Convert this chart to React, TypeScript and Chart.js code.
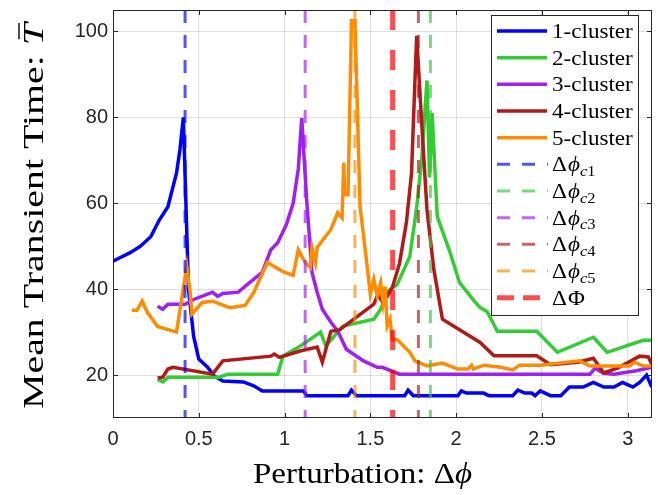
import { useEffect, useRef } from 'react';
import { Chart, registerables } from 'chart.js';

Chart.register(...registerables);

// ---------- axes ----------
const xTickValues = [0, 0.5, 1, 1.5, 2, 2.5, 3];
const yTickValues = [20, 40, 60, 80, 100];
const xMin = 0;
const xMax = Math.PI;
const yMin = 10;
const yMax = 105;
const xTitle = ['Perturbation: Δ', 'ϕ'];
const yTitle = ['Mean Transient Time: ', 'T'];

// ---------- series ----------
const seriesLabels = ['1-cluster', '2-cluster', '3-cluster', '4-cluster', '5-cluster'];
const seriesColors = ['#0000ff', '#33cc33', '#a020f0', '#b01a1a', '#ff8c00'];

const c1X = [0, 0.04, 0.10, 0.16, 0.22, 0.27, 0.32, 0.37, 0.39, 0.41, 0.44, 0.47, 0.50, 0.55, 0.59, 0.64, 0.76, 0.82, 0.87, 1.11, 1.13, 1.37, 1.39, 1.42, 1.70, 1.72, 1.75, 2.01, 2.03, 2.06, 2.12, 2.16, 2.19, 2.33, 2.36, 2.40, 2.44, 2.46, 2.49, 2.55, 2.61, 2.66, 2.74, 2.80, 2.86, 2.92, 2.97, 3.03, 3.07, 3.11, 3.14];
const c1Y = [46.5, 47.3, 48.5, 50, 52.2, 56.1, 59.2, 67, 72.4, 80, 40, 29, 23.7, 21.9, 19.8, 18.6, 18.4, 17.5, 16.3, 16.3, 15.2, 15.2, 16.5, 15.2, 15.2, 16.5, 15.2, 15.2, 16.3, 15.8, 15.8, 15.8, 15.2, 15.2, 16.5, 15.8, 15.8, 15.2, 16.3, 15.2, 15.2, 17.2, 17.2, 18.3, 17.2, 17.2, 18.3, 17.2, 18.3, 20, 17.2];

const c2X = [0.26, 0.29, 0.32, 0.62, 0.67, 0.96, 0.99, 1.09, 1.21, 1.24, 1.34, 1.52, 1.56, 1.60, 1.655, 1.73, 1.77, 1.80, 1.83, 1.845, 1.86, 1.89, 1.965, 2.02, 2.10, 2.14, 2.18, 2.24, 2.47, 2.59, 2.80, 2.88, 3.09, 3.14];
const c2Y = [19, 18.4, 19.5, 19.5, 20.2, 20.2, 24.4, 26.7, 30, 26.8, 31.4, 33, 35.3, 39.5, 41, 47.6, 59, 70.5, 88.6, 66, 81, 56.9, 48.5, 41.5, 37.5, 35.7, 34.8, 30.2, 30.2, 25.3, 28.8, 25.3, 28.1, 28.1];

const c3X = [0.26, 0.29, 0.32, 0.42, 0.47, 0.58, 0.61, 0.64, 0.73, 0.78, 0.87, 0.92, 0.96, 1.01, 1.05, 1.08, 1.10, 1.13, 1.16, 1.19, 1.22, 1.27, 1.31, 1.36, 1.46, 1.54, 1.57, 1.67, 2.78, 2.81, 2.86, 2.92, 3.05, 3.14];
const c3Y = [36, 35.3, 36.5, 36.5, 37.6, 39.3, 38.3, 39, 39.3, 41, 43.9, 49.2, 50.8, 55, 60, 68, 79.8, 60.1, 43.9, 39.3, 35.3, 32.3, 30.2, 26, 23.3, 21.8, 21.8, 20.2, 20.2, 21.6, 20.4, 20.2, 21, 21.8];

const c4X = [0.26, 0.29, 0.32, 0.35, 0.58, 0.64, 0.92, 0.94, 0.97, 1.09, 1.19, 1.22, 1.27, 1.32, 1.52, 1.545, 1.57, 1.60, 1.63, 1.67, 1.71, 1.74, 1.75, 1.77, 1.80, 1.83, 1.87, 1.92, 2.14, 2.22, 2.47, 2.55, 2.71, 2.80, 2.86, 2.94, 3.07, 3.12, 3.14];
const c4Y = [19.3, 19.5, 21.4, 21.8, 20.2, 23.3, 24.4, 24.9, 24.1, 25.6, 26.5, 23, 30.2, 30.5, 36.5, 38.8, 37, 38.4, 40.6, 46, 55.5, 67, 78, 99, 78.2, 58.5, 44.6, 33, 27.6, 24.5, 24.5, 22.4, 23, 23.9, 20.5, 21.6, 24.4, 24.2, 22.6];

const c5X = [0.11, 0.14, 0.17, 0.20, 0.26, 0.37, 0.43, 0.45, 0.46, 0.52, 0.58, 0.68, 0.77, 0.82, 0.90, 0.99, 1.05, 1.08, 1.12, 1.15, 1.16, 1.18, 1.19, 1.27, 1.31, 1.335, 1.345, 1.35, 1.37, 1.39, 1.41, 1.44, 1.47, 1.50, 1.52, 1.54, 1.56, 1.574, 1.586, 1.598, 1.615, 1.627, 1.656, 1.73, 1.76, 1.83, 1.92, 2.01, 2.07, 2.09, 2.10, 2.16, 2.26, 2.33, 2.37, 2.49, 2.72, 2.78, 3.01, 3.04, 3.09, 3.14];
const c5Y = [35.1, 35.1, 37.2, 34.6, 31.3, 30, 45.3, 39.2, 34.2, 36.9, 37.2, 35.7, 36.2, 39.2, 46.2, 44.1, 43.2, 49.2, 46.2, 45, 49.7, 46.2, 49.7, 53.9, 57.8, 56.6, 69.4, 62, 62, 102.5, 102.5, 59.2, 49.2, 38.8, 42.3, 38.4, 41.5, 36.9, 40.6, 31.4, 33, 28.3, 28.3, 25.3, 23.3, 22.1, 22.8, 21.4, 21.4, 22.3, 21.4, 22.3, 21.8, 21.2, 22.3, 22.3, 23.3, 22.1, 22.1, 23, 22.1, 22.1];

const seriesX = [c1X, c2X, c3X, c4X, c5X];
const seriesY = [c1Y, c2Y, c3Y, c4Y, c5Y];

// ---------- critical values (vertical dashed lines) ----------
const criticalLabels = ['Δϕ_c1', 'Δϕ_c2', 'Δϕ_c3', 'Δϕ_c4', 'Δϕ_c5', 'ΔΦ'];
const criticalValues = [0.42, 1.85, 1.12, 1.78, 1.41, 1.63];
const criticalColors = [
  'rgba(0,0,255,0.68)',
  'rgba(51,204,51,0.68)',
  'rgba(160,32,240,0.68)',
  'rgba(176,26,26,0.68)',
  'rgba(255,140,0,0.68)',
  'rgba(255,0,0,0.7)',
];

const SERIF = '"Liberation Serif", "DejaVu Serif", serif';
const SANS = '"Liberation Sans", Arial, sans-serif';

type Seg = { text: string; italic: boolean };

function segWidths(ctx: CanvasRenderingContext2D, segs: Seg[], size: number) {
  return segs.map((s) => {
    ctx.font = `${s.italic ? 'italic ' : ''}${size}px ${SERIF}`;
    return ctx.measureText(s.text).width;
  });
}

// draws segments starting at local x=0 baseline y=0, stretched horizontally by sx
function drawSegs(ctx: CanvasRenderingContext2D, segs: Seg[], size: number, sx: number) {
  const ws = segWidths(ctx, segs, size);
  ctx.save();
  ctx.scale(sx, 1);
  let x = 0;
  segs.forEach((s, i) => {
    ctx.font = `${s.italic ? 'italic ' : ''}${size}px ${SERIF}`;
    ctx.fillText(s.text, x, 0);
    x += ws[i];
  });
  ctx.restore();
  return ws;
}

function drawMathLabel(ctx: CanvasRenderingContext2D, label: string, x: number, y: number, size: number, sx: number) {
  ctx.save();
  ctx.translate(x, y);
  ctx.scale(sx, 1);
  ctx.textAlign = 'left';
  ctx.textBaseline = 'alphabetic';
  if (!label.startsWith('Δ')) {
    ctx.font = `${size}px ${SERIF}`;
    ctx.fillText(label, 0, 0);
    ctx.restore();
    return;
  }
  ctx.font = `${size}px ${SERIF}`;
  ctx.fillText('Δ', 0, 0);
  let cx = ctx.measureText('Δ').width + 1;
  const rest = label.slice(1);
  const [main, sub] = rest.split('_');
  if (main === 'Φ') {
    ctx.font = `${size}px ${SERIF}`;
    ctx.fillText(main, cx, 0);
    ctx.restore();
    return;
  }
  ctx.font = `italic ${size}px ${SERIF}`;
  ctx.fillText(main, cx, 0);
  cx += ctx.measureText(main).width;
  if (sub) {
    const ss = Math.round(size * 0.72);
    ctx.font = `italic ${ss}px ${SERIF}`;
    ctx.fillText(sub[0], cx, size * 0.22);
    cx += ctx.measureText(sub[0]).width;
    ctx.font = `${ss}px ${SERIF}`;
    ctx.fillText(sub.slice(1), cx, size * 0.22);
  }
  ctx.restore();
}

const overlayPlugin = {
  id: 'overlay',
  afterDraw(chart: any) {
    const ctx: CanvasRenderingContext2D = chart.ctx;
    const { left, right, top, bottom } = chart.chartArea;
    const xs = chart.scales.x;
    const ys = chart.scales.y;
    ctx.save();
    ctx.strokeStyle = '#262626';
    ctx.lineWidth = 1;
    ctx.setLineDash([]);
    // box
    ctx.strokeRect(Math.round(left) + 0.5, Math.round(top) + 0.5, Math.round(right - left) - 1, Math.round(bottom - top) - 1);
    // inward ticks
    ctx.beginPath();
    xTickValues.forEach((v) => {
      const px = Math.round(xs.getPixelForValue(v)) + 0.5;
      ctx.moveTo(px, bottom);
      ctx.lineTo(px, bottom - 5);
      ctx.moveTo(px, top);
      ctx.lineTo(px, top + 5);
    });
    yTickValues.forEach((v) => {
      const py = Math.round(ys.getPixelForValue(v)) + 0.5;
      ctx.moveTo(left, py);
      ctx.lineTo(left + 5, py);
      ctx.moveTo(right, py);
      ctx.lineTo(right - 5, py);
    });
    ctx.stroke();

    // legend
    const bw = 147;
    const bh = 300;
    const bx = Math.round(right) - 14 - bw;
    const by = Math.round(top) + 5;
    ctx.fillStyle = '#ffffff';
    ctx.fillRect(bx, by, bw, bh);
    ctx.strokeStyle = '#262626';
    ctx.strokeRect(bx + 0.5, by + 0.5, bw, bh);
    const rowH = 26.67;
    const items: { label: string; color: string; width: number; dash: number[]; len: number }[] = [];
    seriesLabels.forEach((l, i) => items.push({ label: l, color: seriesColors[i], width: 3.5, dash: [], len: 50 }));
    criticalLabels.forEach((l, i) => {
      const big = l === 'ΔΦ';
      items.push({ label: l, color: criticalColors[i], width: big ? 5 : 3, dash: big ? [17, 9] : [13, 12], len: big ? 43 : 51 });
    });
    items.forEach((it, i) => {
      const cy = by + 16 + i * rowH;
      ctx.beginPath();
      ctx.strokeStyle = it.color;
      ctx.lineWidth = it.width;
      ctx.setLineDash(it.dash);
      ctx.moveTo(bx + 6, cy);
      ctx.lineTo(bx + 6 + it.len, cy);
      ctx.stroke();
      ctx.setLineDash([]);
      ctx.fillStyle = '#000000';
      drawMathLabel(ctx, it.label, bx + 61, cy + 7, 21, 1.1);
    });

    // titles
    ctx.fillStyle = '#000000';
    ctx.textAlign = 'left';
    ctx.textBaseline = 'alphabetic';
    const tSize = 30;

    // x title
    const xSegs: Seg[] = [
      { text: xTitle[0], italic: false },
      { text: xTitle[1], italic: true },
    ];
    const xw = segWidths(ctx, xSegs, tSize).reduce((a, b) => a + b, 0);
    const xSpan = 219;
    const xsx = xSpan / xw;
    ctx.save();
    ctx.translate(362.5 - xSpan / 2, 483);
    drawSegs(ctx, xSegs, tSize, xsx);
    ctx.restore();

    // y title
    const ySegs: Seg[] = [
      { text: yTitle[0], italic: false },
      { text: yTitle[1], italic: true },
    ];
    const yws = segWidths(ctx, ySegs, tSize);
    const yw = yws[0] + yws[1];
    const ySpan = 386;
    const ysx = ySpan / yw;
    ctx.save();
    ctx.translate(43, 216 + ySpan / 2);
    ctx.rotate(-Math.PI / 2);
    drawSegs(ctx, ySegs, tSize, ysx);
    // bar over T
    ctx.beginPath();
    ctx.strokeStyle = '#000000';
    ctx.lineWidth = 1.4;
    const tStart = yws[0] * ysx;
    ctx.moveTo(tStart + 6, -tSize * 0.8);
    ctx.lineTo(tStart + yws[1] * ysx, -tSize * 0.8);
    ctx.stroke();
    ctx.restore();

    ctx.restore();
  },
};

export default function App() {
  const canvasRef = useRef<HTMLCanvasElement | null>(null);

  useEffect(() => {
    document.body.style.margin = '0';
    const canvas = canvasRef.current;
    if (!canvas) return;

    const datasets: any[] = [];
    seriesLabels.forEach((label, i) => {
      datasets.push({
        label,
        data: seriesX[i].map((x, j) => ({ x, y: seriesY[i][j] })),
        borderColor: seriesColors[i],
        backgroundColor: seriesColors[i],
        borderWidth: 3.5,
        pointRadius: 0,
        tension: 0,
        fill: false,
        order: 100 - i,
      });
    });
    criticalLabels.forEach((label, i) => {
      const big = label === 'ΔΦ';
      datasets.push({
        label,
        data: [
          { x: criticalValues[i], y: yMax },
          { x: criticalValues[i], y: yMin },
        ],
        borderColor: criticalColors[i],
        backgroundColor: criticalColors[i],
        borderWidth: big ? 5 : 3,
        borderDash: big ? [20, 20] : [13, 12],
        pointRadius: 0,
        fill: false,
        order: 50 - i,
      });
    });

    const chart = new Chart(canvas, {
      type: 'line',
      data: { datasets },
      options: {
        animation: false,
        responsive: false,
        maintainAspectRatio: false,
        layout: { padding: { left: 0, right: 6, top: 10, bottom: 0 } },
        plugins: {
          legend: { display: false },
          tooltip: { enabled: false },
        },
        scales: {
          x: {
            type: 'linear',
            min: xMin,
            max: xMax,
            afterBuildTicks: (scale: any) => {
              scale.ticks = xTickValues.map((v) => ({ value: v }));
            },
            afterFit: (scale: any) => {
              scale.height = 77;
              scale.paddingLeft = 0;
              scale.paddingRight = 0;
            },
            border: { display: false },
            grid: { color: 'rgba(0,0,0,0.13)', lineWidth: 1, drawTicks: false },
            ticks: {
              padding: 9,
              color: '#262626',
              font: { family: SANS, size: 20 },
              callback: (v: any) => String(v),
              maxRotation: 0,
            },
          },
          y: {
            type: 'linear',
            min: yMin,
            max: yMax,
            afterBuildTicks: (scale: any) => {
              scale.ticks = yTickValues.map((v) => ({ value: v }));
            },
            afterFit: (scale: any) => {
              scale.width = 113;
              scale.paddingTop = 0;
              scale.paddingBottom = 0;
            },
            border: { display: false },
            grid: { color: 'rgba(0,0,0,0.13)', lineWidth: 1, drawTicks: false },
            ticks: {
              padding: 5,
              color: '#262626',
              font: { family: SANS, size: 20 },
              callback: (v: any) => String(v),
            },
          },
        },
      },
      plugins: [overlayPlugin],
    });

    return () => chart.destroy();
  }, []);

  return (
    <div style={{ width: 658, height: 495 }}>
      <canvas ref={canvasRef} width={658} height={495} style={{ display: 'block' }} />
    </div>
  );
}
